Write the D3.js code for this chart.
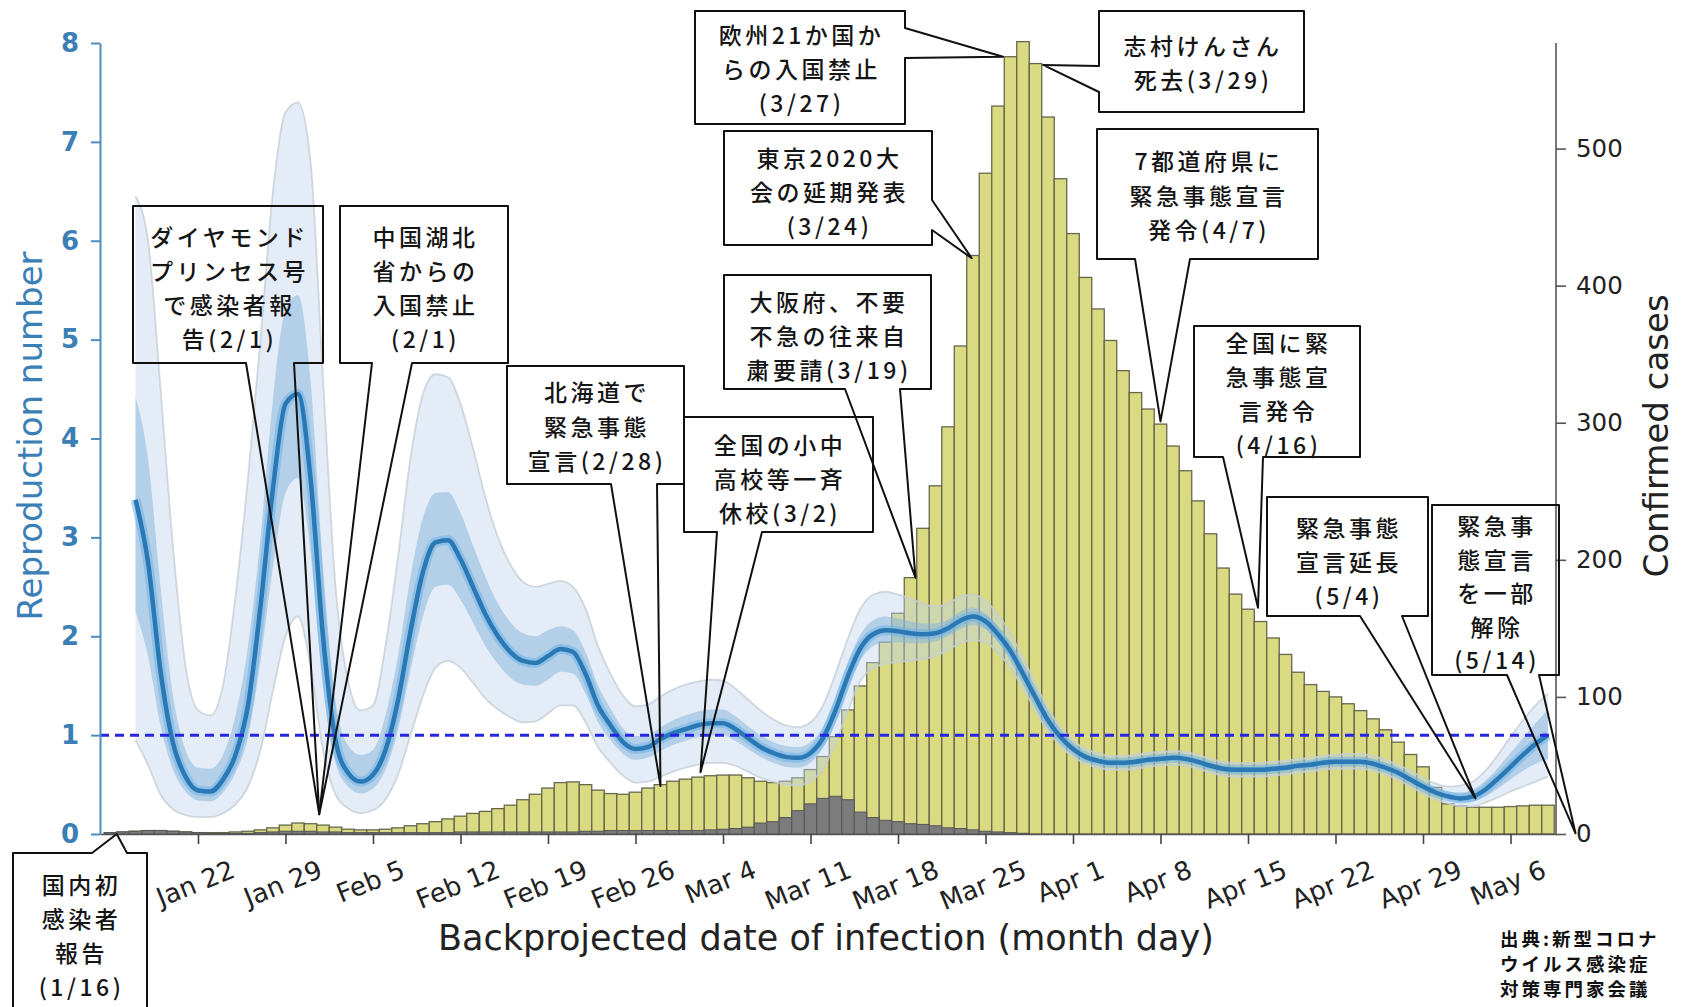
<!DOCTYPE html>
<html>
<head>
<meta charset="utf-8">
<script src="https://cdn.jsdelivr.net/npm/d3@7"></script>
<style>
  body { margin: 0; background: #fff; }
  svg text { font-family: "DejaVu Sans", sans-serif; }
  .jp { font-family: "Noto Sans CJK JP", sans-serif; }
</style>
</head>
<body>
<script>
// Daily confirmed cases by backprojected infection date, from Jan 15
const casesStart = "2020-01-15";
const cases = [
  1, 1.5, 2, 2.5, 2.5, 2, 1.5, 1, 1, 1,
  1.5, 2, 3, 4.5, 6.5, 8, 7.5, 6.5, 5, 3.5,
  3, 3, 3.5, 4.5, 6, 7.5, 9, 11, 13, 15,
  16.5, 18.5, 21, 25, 29, 33.5, 37.5, 38, 36, 32,
  29.5, 29, 30.5, 33.5, 36, 38.5, 40, 41.5, 42.5, 43,
  43, 41, 38.5, 37.5, 38.5, 41, 47, 56.5, 71, 90.5,
  108, 125, 140, 161, 187, 223, 254, 297, 356, 422,
  482, 531, 567, 578, 562, 523, 478, 438, 406, 383,
  360, 338, 322, 310, 299, 283, 265, 243, 219, 194,
  175, 164, 155, 143, 131, 118, 109, 104, 100, 95,
  90, 84, 76, 67, 58, 49, 34, 22, 20.5, 19.5,
  19.5, 19.5, 20, 20.5, 21, 21
];
// imported / grey part, same start date
const imported = [
  1, 1.5, 2, 2.5, 2.5, 2, 1.5, 1, 0.5, 0.5,
  0.5, 0.5, 1, 1.5, 2, 2, 2, 1.5, 1.5, 1,
  1, 1, 1, 1, 1, 1, 1, 1, 1.5, 1.5,
  1.5, 1.5, 1.5, 1.5, 1.5, 1.5, 1.5, 1.5, 2, 2,
  2.5, 2.5, 2.5, 2.5, 2.5, 2.5, 2.5, 2.5, 3, 3.5,
  4, 5, 8, 9, 12, 17, 22, 26, 27.5, 25,
  16, 12, 10, 9, 7.5, 7, 6, 4.5, 4, 3,
  2, 1.5, 1, 0.5
];

// Reproduction number, from Jan 17
const rStart = "2020-01-17";
const rMedian = [
  3.38, 2.75, 1.65, 0.92, 0.58, 0.44, 0.43, 0.55, 0.8, 1.3,
  2.3, 3.5, 4.35, 4.45, 3.6, 2.0, 0.95, 0.62, 0.53, 0.6,
  0.85, 1.35, 2.05, 2.65, 2.95, 2.97, 2.78, 2.5, 2.22, 2.0,
  1.84, 1.75, 1.73, 1.8, 1.87, 1.84, 1.62, 1.3, 1.1, 0.93,
  0.86, 0.88, 0.96, 1.02, 1.06, 1.1, 1.12, 1.12, 1.06, 0.97,
  0.88, 0.82, 0.78, 0.77, 0.82, 0.97, 1.25, 1.6, 1.88, 2.02,
  2.06, 2.05, 2.03, 2.02, 2.03, 2.08, 2.16, 2.2, 2.15, 2.02,
  1.85, 1.62, 1.38, 1.15, 0.98, 0.86, 0.78, 0.74, 0.72, 0.72,
  0.73, 0.75, 0.76, 0.77, 0.76, 0.73, 0.69, 0.66, 0.65, 0.65,
  0.65, 0.66, 0.67, 0.69, 0.7, 0.72, 0.73, 0.73, 0.73, 0.71,
  0.67, 0.62, 0.55, 0.48, 0.42, 0.38, 0.36, 0.38, 0.45, 0.56,
  0.68, 0.8, 0.91, 1.0
];
const rLo50 = [
  2.25, 1.8, 1.1, 0.65, 0.43, 0.34, 0.33, 0.42, 0.62, 0.98,
  1.75, 2.7, 3.45, 3.6, 2.85, 1.5, 0.72, 0.48, 0.41, 0.46,
  0.65, 1.05, 1.65, 2.2, 2.5, 2.52, 2.37, 2.14, 1.9, 1.72,
  1.58, 1.51, 1.5, 1.56, 1.64, 1.62, 1.42, 1.13, 0.95, 0.81,
  0.75, 0.77, 0.84, 0.9, 0.94, 0.98, 1.0, 1.0, 0.94, 0.86,
  0.78, 0.72, 0.68, 0.67, 0.72, 0.87, 1.13, 1.47, 1.76, 1.9,
  1.94, 1.94, 1.93, 1.93, 1.95, 2.0, 2.07, 2.11, 2.07, 1.95,
  1.78, 1.56, 1.32, 1.1, 0.94, 0.83, 0.75, 0.71, 0.69, 0.69,
  0.70, 0.72, 0.73, 0.74, 0.73, 0.70, 0.66, 0.63, 0.62, 0.62,
  0.62, 0.63, 0.64, 0.66, 0.67, 0.69, 0.70, 0.70, 0.70, 0.68,
  0.64, 0.59, 0.52, 0.45, 0.39, 0.35, 0.32, 0.33, 0.38, 0.46,
  0.55, 0.64, 0.71, 0.76
];
const rHi50 = [
  4.42, 3.8, 2.5, 1.4, 0.85, 0.67, 0.66, 0.8, 1.2, 1.9,
  3.0, 4.4, 5.3, 5.45, 4.6, 2.7, 1.35, 0.9, 0.8, 0.85,
  1.2, 1.8, 2.6, 3.2, 3.45, 3.46, 3.25, 2.92, 2.6, 2.33,
  2.14, 2.03, 2.0, 2.06, 2.1, 2.06, 1.84, 1.5, 1.27, 1.07,
  0.99, 1.0, 1.08, 1.15, 1.2, 1.24, 1.26, 1.26, 1.19, 1.09,
  1.0, 0.93, 0.89, 0.88, 0.93, 1.08, 1.38, 1.74, 2.02, 2.16,
  2.2, 2.18, 2.15, 2.13, 2.13, 2.17, 2.25, 2.29, 2.23, 2.1,
  1.92, 1.69, 1.44, 1.2, 1.02, 0.9, 0.81, 0.77, 0.75, 0.75,
  0.76, 0.78, 0.79, 0.80, 0.79, 0.76, 0.72, 0.69, 0.68, 0.68,
  0.68, 0.69, 0.70, 0.72, 0.73, 0.75, 0.76, 0.76, 0.77, 0.75,
  0.71, 0.66, 0.59, 0.52, 0.46, 0.43, 0.42, 0.45, 0.54, 0.67,
  0.82, 0.97, 1.12, 1.26
];
const rLo95 = [
  0.95, 0.7, 0.4, 0.25, 0.19, 0.17, 0.17, 0.21, 0.3, 0.48,
  0.85, 1.45, 2.0, 2.2, 1.7, 0.85, 0.4, 0.26, 0.21, 0.24,
  0.35, 0.6, 1.0, 1.4, 1.68, 1.75, 1.68, 1.53, 1.37, 1.26,
  1.18, 1.13, 1.14, 1.22, 1.3, 1.3, 1.13, 0.88, 0.72, 0.59,
  0.52, 0.53, 0.58, 0.63, 0.67, 0.7, 0.72, 0.72, 0.69, 0.63,
  0.57, 0.53, 0.5, 0.49, 0.53, 0.66, 0.92, 1.25, 1.55, 1.68,
  1.72, 1.74, 1.75, 1.77, 1.8, 1.86, 1.93, 1.96, 1.94, 1.83,
  1.68, 1.47, 1.25, 1.04, 0.89, 0.78, 0.71, 0.67, 0.65, 0.65,
  0.66, 0.68, 0.69, 0.70, 0.69, 0.66, 0.62, 0.59, 0.58, 0.58,
  0.58, 0.59, 0.60, 0.62, 0.63, 0.65, 0.66, 0.66, 0.66, 0.64,
  0.60, 0.55, 0.48, 0.41, 0.35, 0.31, 0.28, 0.28, 0.32, 0.37,
  0.43, 0.48, 0.53, 0.58
];
const rHi95 = [
  6.45, 6.0, 4.5, 2.9, 1.7, 1.25, 1.2, 1.5, 2.4, 3.6,
  5.0, 6.5, 7.3, 7.4, 6.8, 4.6, 2.5, 1.55, 1.25, 1.3,
  1.9, 2.8, 3.8, 4.45, 4.65, 4.62, 4.35, 3.9, 3.4, 3.0,
  2.72, 2.55, 2.5, 2.53, 2.56, 2.5, 2.28, 1.9, 1.62, 1.4,
  1.29, 1.31, 1.39, 1.46, 1.51, 1.54, 1.56, 1.55, 1.47, 1.36,
  1.25, 1.16, 1.1, 1.08, 1.13, 1.3, 1.62, 1.98, 2.28, 2.42,
  2.45, 2.42, 2.38, 2.33, 2.3, 2.33, 2.4, 2.42, 2.36, 2.22,
  2.03, 1.78, 1.52, 1.27, 1.08, 0.95, 0.86, 0.82, 0.79, 0.79,
  0.80, 0.82, 0.83, 0.84, 0.83, 0.80, 0.76, 0.73, 0.72, 0.72,
  0.72, 0.73, 0.74, 0.76, 0.77, 0.79, 0.80, 0.81, 0.81, 0.79,
  0.75, 0.70, 0.64, 0.57, 0.51, 0.48, 0.49, 0.53, 0.64, 0.80,
  0.98, 1.15, 1.30, 1.42
];

const tickLabels = ["Jan 22", "Jan 29", "Feb 5", "Feb 12", "Feb 19", "Feb 26", "Mar 4", "Mar 11",
  "Mar 18", "Mar 25", "Apr 1", "Apr 8", "Apr 15", "Apr 22", "Apr 29", "May 6"];
const rTicks = [0, 1, 2, 3, 4, 5, 6, 7, 8];
const caseTicks = [0, 100, 200, 300, 400, 500];

// callouts: tip is given in days after Jan 22 and a value on one of the axes
const notes = [
  { lines: ["国内初", "感染者", "報告", "(1/16)"], box: [13, 853, 147, 1012], ty: 884, lh: 34, side: "top", base: [92, 127], tip: { day: -6.5, cases: 0 } },
  { lines: ["ダイヤモンド", "プリンセス号", "で感染者報", "告(2/1)"], box: [133, 206, 323, 363], ty: 236, lh: 34, side: "bottom", base: [246, 294], tip: { day: 9.7, r: 0.2 } },
  { lines: ["中国湖北", "省からの", "入国禁止", "(2/1)"], box: [340, 206, 508, 363], ty: 236, lh: 34, side: "bottom", base: [372, 412], tip: { day: 9.7, r: 0.2 } },
  { lines: ["北海道で", "緊急事態", "宣言(2/28)"], box: [507, 366, 684, 484], ty: 391, lh: 34.5, side: "bottom", base: [611, 657], tip: { day: 37, cases: 35 } },
  { lines: ["全国の小中", "高校等一斉", "休校(3/2)"], box: [684, 417, 873, 532], ty: 444, lh: 34, side: "bottom", base: [717, 762], tip: { day: 40.2, cases: 45 } },
  { lines: ["大阪府、不要", "不急の往来自", "粛要請(3/19)"], box: [724, 275, 931, 389], ty: 301, lh: 34, side: "bottom", base: [845, 900], tip: { day: 57.4, cases: 187 } },
  { lines: ["東京2020大", "会の延期発表", "(3/24)"], box: [724, 131, 932, 245], ty: 157, lh: 34, side: "right", base: [200, 230], tip: { day: 61.9, cases: 420 } },
  { lines: ["欧州21か国か", "らの入国禁止", "(3/27)"], box: [695, 11, 905, 124], ty: 34, lh: 34, side: "right", base: [28, 58], tip: { day: 64.4, cases: 567 } },
  { lines: ["志村けんさん", "死去(3/29)"], box: [1099, 11, 1304, 112], ty: 45, lh: 34, side: "left", base: [66, 92], tip: { day: 67.6, cases: 561 } },
  { lines: ["7都道府県に", "緊急事態宣言", "発令(4/7)"], box: [1097, 129, 1318, 259], ty: 160, lh: 34.5, side: "bottom", base: [1135, 1190], tip: { day: 77, cases: 301 } },
  { lines: ["全国に緊", "急事態宣", "言発令", "(4/16)"], box: [1194, 326, 1360, 457], ty: 342, lh: 34, side: "bottom", base: [1223, 1263], tip: { day: 84.8, cases: 165 } },
  { lines: ["緊急事態", "宣言延長", "(5/4)"], box: [1267, 497, 1428, 616], ty: 527, lh: 34, side: "bottom", base: [1360, 1402], tip: { day: 102.2, r: 0.36 } },
  { lines: ["緊急事", "態宣言", "を一部", "解除", "(5/14)"], box: [1432, 505, 1559, 675], ty: 525, lh: 33.5, side: "bottom", base: [1507, 1539], tip: { day: 110.2, cases: 0.5 } }
];
const sourceLines = ["出典:新型コロナ", "ウイルス感染症", "対策専門家会議"];

const width = 1686;
const height = 1007;
const parseDay = d3.utcParse("%Y-%m-%d");
const parseTick = d3.utcParse("%b %d %Y");
const day0 = parseDay("2020-01-22");
const dayAt = k => new Date(day0.getTime() + k * 864e5);

const x = d3.scaleTime().domain([dayAt(-7.84), dayAt(108.64)]).range([100, 1556]);
const yR = d3.scaleLinear().domain([0, 8]).range([834, 43]);
const yC = d3.scaleLinear().domain([0, 577]).range([834, 43]);

const svg = d3.select('body').append('svg')
    .attr('width', width)
    .attr('height', height);

drawBars();
drawRt();
drawAxes();
drawNotes();

function drawBars() {
    const start = parseDay(casesStart);
    const bw = x(dayAt(1)) - x(dayAt(0));
    const g = svg.append('g');
    g.selectAll('rect.total')
        .data(cases)
        .join('rect')
        .attr('class', 'total')
        .attr('x', (d, i) => x(d3.utcDay.offset(start, i)) - bw / 2)
        .attr('width', bw)
        .attr('y', d => yC(d))
        .attr('height', d => yC(0) - yC(d))
        .attr('fill', '#d9da82')
        .attr('stroke', '#67674c')
        .attr('stroke-width', 1.3);
    g.selectAll('rect.imp')
        .data(imported)
        .join('rect')
        .attr('class', 'imp')
        .attr('x', (d, i) => x(d3.utcDay.offset(start, i)) - bw / 2)
        .attr('width', bw)
        .attr('y', d => yC(d))
        .attr('height', d => yC(0) - yC(d))
        .attr('fill', '#7c7c7c')
        .attr('stroke', '#555')
        .attr('stroke-width', 1);
}

function drawRt() {
    const start = parseDay(rStart);
    const rows = rMedian.map((m, i) => ({
        t: d3.utcDay.offset(start, i), m,
        lo50: rLo50[i], hi50: rHi50[i], lo95: rLo95[i], hi95: rHi95[i]
    }));
    const curve = d3.curveMonotoneX;
    const band = (lo, hi) => d3.area().x(d => x(d.t)).y0(d => yR(d[lo])).y1(d => yR(d[hi])).curve(curve);
    const edge = k => d3.line().x(d => x(d.t)).y(d => yR(d[k])).curve(curve);

    svg.append('path').datum(rows).attr('d', band('lo95', 'hi95'))
        .attr('fill', '#bfd5eb').attr('fill-opacity', 0.42);
    ['lo95', 'hi95'].forEach(k => {
        svg.append('path').datum(rows).attr('d', edge(k))
            .attr('fill', 'none').attr('stroke', '#c6ced6').attr('stroke-width', 1.8).attr('stroke-opacity', 0.8);
    });
    svg.append('path').datum(rows).attr('d', band('lo50', 'hi50'))
        .attr('fill', '#83b3dc').attr('fill-opacity', 0.5);
    svg.append('path').datum(rows).attr('d', edge('m'))
        .attr('fill', 'none').attr('stroke', '#6fb2e6').attr('stroke-width', 10).attr('stroke-opacity', 0.55);
    svg.append('path').datum(rows).attr('d', edge('m'))
        .attr('fill', 'none').attr('stroke', '#2a78b4').attr('stroke-width', 4.5);

    svg.append('line')
        .attr('x1', 100).attr('x2', 1556)
        .attr('y1', yR(1)).attr('y2', yR(1))
        .attr('stroke', '#2626e3').attr('stroke-width', 3)
        .attr('stroke-dasharray', '9,6');
}

function drawAxes() {
    const tickDates = tickLabels.map(l => parseTick(l + " 2020"));

    const bottom = svg.append('g')
        .attr('transform', `translate(0,${yC(0)})`)
        .call(d3.axisBottom(x).tickValues(tickDates).tickSize(10).tickSizeOuter(0)
            .tickFormat((d, i) => tickLabels[i]));
    bottom.select('.domain').attr('stroke', '#555').attr('stroke-width', 1.5);
    bottom.selectAll('.tick line').attr('stroke', '#444').attr('stroke-width', 1.6);
    const ang = 22 * Math.PI / 180;
    bottom.selectAll('.tick text')
        .attr('font-size', 26)
        .attr('fill', '#222')
        .attr('dy', null)
        .attr('y', null)
        .attr('text-anchor', 'middle')
        .attr('dominant-baseline', 'central')
        .attr('transform', function () {
            const L = this.getComputedTextLength();
            const H = L * Math.sin(ang) + 22 * Math.cos(ang);
            return `translate(-3,${24 + H / 2}) rotate(-22)`;
        });

    const left = svg.append('g')
        .attr('transform', 'translate(100,0)')
        .call(d3.axisLeft(yR).tickValues(rTicks).tickSize(9).tickPadding(12).tickSizeOuter(0));
    left.select('.domain').attr('stroke', '#4f8cc0').attr('stroke-width', 2);
    left.selectAll('.tick line').attr('stroke', '#4f8cc0').attr('stroke-width', 2);
    left.selectAll('.tick text').attr('font-size', 26).attr('font-weight', 'bold').attr('fill', '#3c7fb5');

    const right = svg.append('g')
        .attr('transform', 'translate(1556,0)')
        .call(d3.axisRight(yC).tickValues(caseTicks).tickSize(10).tickPadding(10).tickSizeOuter(0));
    right.select('.domain').attr('stroke', '#555').attr('stroke-width', 1.6)
        .attr('d', `M0,${yC(0)}V${yR(8)}`);
    right.selectAll('.tick line').attr('stroke', '#555').attr('stroke-width', 1.6);
    right.selectAll('.tick text').attr('font-size', 24.5).attr('fill', '#222');

    svg.append('text')
        .attr('transform', 'translate(30,436) rotate(-90)')
        .attr('text-anchor', 'middle').attr('dominant-baseline', 'central')
        .attr('font-size', 34).attr('fill', '#3a7fb6')
        .text('Reproduction number');
    svg.append('text')
        .attr('transform', 'translate(1656,436) rotate(-90)')
        .attr('text-anchor', 'middle').attr('dominant-baseline', 'central')
        .attr('font-size', 34).attr('fill', '#222')
        .text('Confirmed cases');
    svg.append('text')
        .attr('x', 826).attr('y', 938)
        .attr('text-anchor', 'middle').attr('dominant-baseline', 'central')
        .attr('font-size', 35).attr('fill', '#222')
        .text('Backprojected date of infection (month day)');
}

function tipPoint(tip) {
    const tx = x(dayAt(tip.day));
    const ty = tip.r !== undefined ? yR(tip.r) : yC(tip.cases);
    return [tx, ty];
}

function calloutPath(n) {
    const [x0, y0, x1, y1] = n.box;
    const [a, b] = n.base;
    const t = tipPoint(n.tip);
    const p = [[x0, y0]];
    if (n.side === 'top') p.push([a, y0], t, [b, y0]);
    p.push([x1, y0]);
    if (n.side === 'right') p.push([x1, a], t, [x1, b]);
    p.push([x1, y1]);
    if (n.side === 'bottom') p.push([b, y1], t, [a, y1]);
    p.push([x0, y1]);
    if (n.side === 'left') p.push([x0, b], t, [x0, a]);
    return 'M' + p.map(q => q.join(',')).join('L') + 'Z';
}

function drawNotes() {
    const g = svg.append('g');
    notes.forEach(n => {
        g.append('path')
            .attr('d', calloutPath(n))
            .attr('fill', 'none')
            .attr('stroke', '#111')
            .attr('stroke-width', 2)
            .attr('stroke-linejoin', 'round');
        const cx = (n.box[0] + n.box[2]) / 2;
        n.lines.forEach((line, i) => {
            g.append('text')
                .attr('class', 'jp')
                .attr('x', cx + 1.5)
                .attr('y', n.ty + i * n.lh)
                .attr('text-anchor', 'middle')
                .attr('dominant-baseline', 'central')
                .attr('font-size', 23)
                .attr('font-weight', 500)
                .attr('letter-spacing', 3.5)
                .attr('fill', '#151515')
                .text(line);
        });
    });

    // source note, bottom right
    sourceLines.forEach((line, i) => {
        svg.append('text')
            .attr('class', 'jp')
            .attr('x', 1500)
            .attr('y', 938 + i * 25)
            .attr('dominant-baseline', 'central')
            .attr('font-size', 18.5)
            .attr('font-weight', 'bold')
            .attr('letter-spacing', 3)
            .attr('fill', '#111')
            .text(line);
    });
}
</script>
</body>
</html>
